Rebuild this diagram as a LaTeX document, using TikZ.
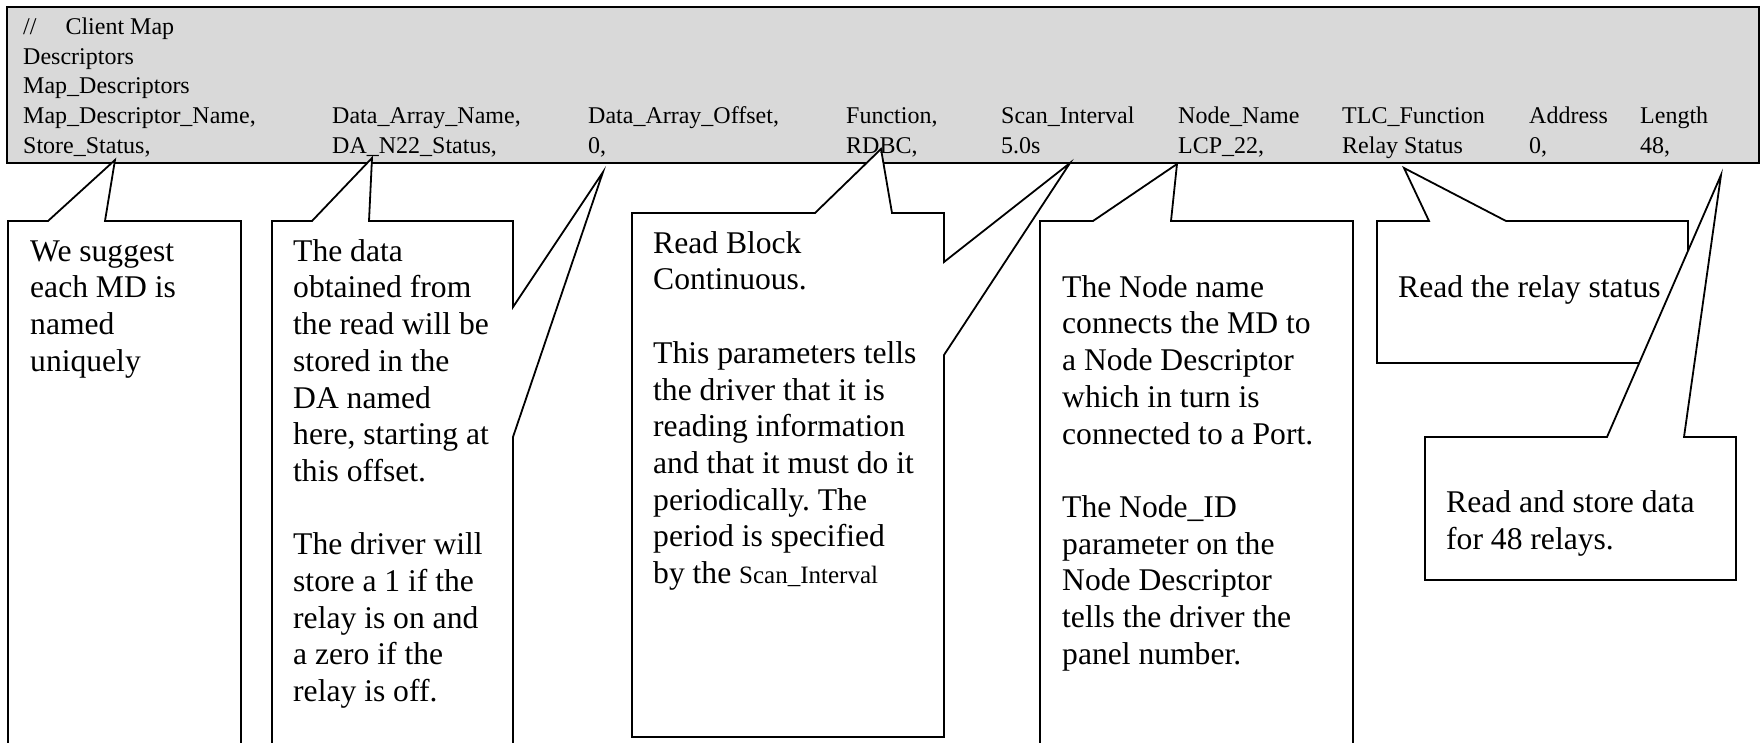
\documentclass[tikz,border=0pt]{standalone}
\usepackage{fontspec}
\setmainfont{Liberation Serif}
\frenchspacing
\definecolor{hdrgray}{RGB}{217,217,217}
\newcommand\firstline{\rule{0pt}{24pt}}
\tikzset{
  hdrbox/.style={draw=black, line width=2.6pt, fill=hdrgray},
  callout/.style={draw=black, line width=1.8pt, fill=white, line join=miter},
  htxt/.style={font=\fontsize{24}{29.7}\selectfont, inner sep=0pt, anchor=base west},
  ctxt/.style={font=\fontsize{31.6}{36.7}\selectfont, inner sep=0pt, anchor=north west, align=left}
}
\begin{document}
\begin{tikzpicture}[x=1pt,y=-1pt]
\clip (0,0) rectangle (1762,743);

% header block with the map descriptor listing
\draw[hdrbox] (7,7) rectangle (1759,163);

% callout tips
\coordinate (t1) at (115,160);
\coordinate (t2) at (372,158);
\coordinate (t3) at (603,172);
\coordinate (t4) at (881,149);
\coordinate (t5) at (1070,163);
\coordinate (t6) at (1177,164);
\coordinate (t7) at (1404,168);
\coordinate (t8) at (1721,175);

% callout 1: map descriptor name
\draw[callout] (8,760) -- (8,221) -- (48,221) -- (t1) -- (105,221) -- (241,221) -- (241,760) -- cycle;
% callout 2: data array name, with a second wedge for the offset
\draw[callout] (272,760) -- (272,221) -- (312,221) -- (t2) -- (369,221) -- (513,221)
  -- (513,307) -- (t3) -- (513,437) -- (513,760) -- cycle;
% callout 3: function, with a second wedge for the scan interval
\draw[callout] (632,737) -- (632,213) -- (815,213) -- (t4) -- (892,213) -- (944,213)
  -- (944,262) -- (t5) -- (944,355) -- (944,737) -- cycle;
% callout 4: node name
\draw[callout] (1040,760) -- (1040,221) -- (1093,221) -- (t6) -- (1171,221) -- (1353,221) -- (1353,760) -- cycle;
% callout 5: TLC function
\draw[callout] (1377,363) -- (1377,221) -- (1429,221) -- (t7) -- (1506,221) -- (1688,221) -- (1688,363) -- cycle;
% callout 6: length
\draw[callout] (1425,580) -- (1425,437) -- (1607,437) -- (t8) -- (1684,437) -- (1736,437) -- (1736,580) -- cycle;

% header text
\node[htxt] (l1) at (23,35) {//\hspace*{29pt}Client Map};
\node[htxt] (l2) at (23,64.5) {Descriptors};
\node[htxt] (l3) at (23,94) {Map\_Descriptors};

\node[htxt] (k1) at (23,124) {Map\_Descriptor\_Name,};
\node[htxt] (k2) at (332,124) {Data\_Array\_Name,};
\node[htxt] (k3) at (588,124) {Data\_Array\_Offset,};
\node[htxt] (k4) at (846,124) {Function,};
\node[htxt] (k5) at (1001,124) {Scan\_Interval};
\node[htxt] (k6) at (1178,124) {Node\_Name};
\node[htxt] (k7) at (1342,124) {TLC\_Function};
\node[htxt] (k8) at (1529,124) {Address};
\node[htxt] (k9) at (1640,124) {Length};

\node[htxt] (v1) at (23,153.5) {Store\_Status,};
\node[htxt] (v2) at (332,153.5) {DA\_N22\_Status,};
\node[htxt] (v3) at (588,153.5) {0,};
\node[htxt] (v4) at (846,153.5) {RDBC,};
\node[htxt] (v5) at (1001,153.5) {5.0s};
\node[htxt] (v6) at (1178,153.5) {LCP\_22,};
\node[htxt] (v7) at (1342,153.5) {Relay Status};
\node[htxt] (v8) at (1529,153.5) {0,};
\node[htxt] (v9) at (1640,153.5) {48,};

% callout text
\node[ctxt] (c1) at (30,237) {\firstline We suggest\\each MD is\\named\\uniquely};
\node[ctxt] (c2) at (293,237) {\firstline The data\\obtained from\\the read will be\\stored in the\\DA named\\here, starting at\\this offset.\\[36.7pt]The driver will\\store a 1 if the\\relay is on and\\a zero if the\\relay is off.};
\node[ctxt] (c3) at (653,229) {\firstline Read Block\\Continuous.\\[36.7pt]This parameters tells\\the driver that it is\\reading information\\and that it must do it\\periodically. The\\period is specified\\by the {\fontsize{25}{30}\selectfont Scan\_Interval}};
\node[ctxt] (c4) at (1062,273) {\firstline The Node name\\connects the MD to\\a Node Descriptor\\which in turn is\\connected to a Port.\\[36.7pt]The Node\_ID\\parameter on the\\Node Descriptor\\tells the driver the\\panel number.};
\node[ctxt] (c5) at (1398,273) {\firstline Read the relay status};
\node[ctxt] (c6) at (1446,488.5) {\firstline Read and store data\\for 48 relays.};
\end{tikzpicture}
\end{document}
